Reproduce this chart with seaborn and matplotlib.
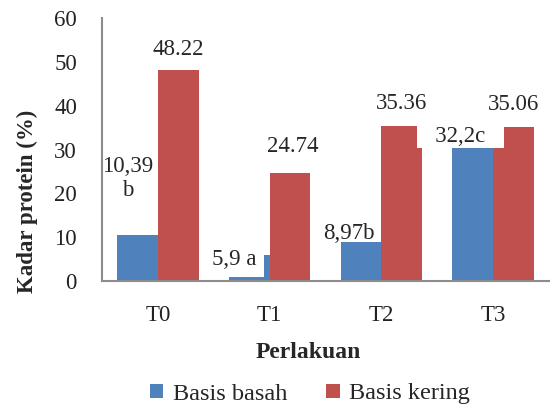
import matplotlib
matplotlib.use("Agg")
import matplotlib.pyplot as plt
import seaborn as sns
import pandas as pd

categories = ["T0", "T1", "T2", "T3"]
series_names = ["Basis basah", "Basis kering"]
basah = [10.39, 5.9, 8.97, 32.2]
kering = [48.22, 24.74, 35.36, 35.06]
basah_labels = ["10,39\nb", "5,9 a", "8,97b", "32,2c"]
kering_labels = ["48.22", "24.74", "35.36", "35.06"]
colors = ["#4F81BD", "#C0504D"]

df = pd.DataFrame({
    "Perlakuan": categories * 2,
    "value": basah + kering,
    "series": [series_names[0]] * 4 + [series_names[1]] * 4,
})

sns.set_style("white")
plt.rcParams["font.family"] = ["Liberation Serif", "DejaVu Serif"]

fig = plt.figure(figsize=(5.51, 4.05), dpi=100)
ax = fig.add_axes([102 / 551, 1 - 281 / 405, (549 - 102) / 551, (281 - 18) / 405])

sns.barplot(data=df, x="Perlakuan", y="value", hue="series", palette=colors,
            width=0.73, saturation=1, ax=ax, edgecolor="none", linewidth=0)

ax.set_ylim(0, 60)
ax.set_xlim(-0.5, 3.5)
ax.set_yticks(range(0, 61, 10))
fs = 16.5
ax.tick_params(axis="both", length=0, labelsize=fs, colors="#222222")
ax.tick_params(axis="x", pad=17)
ax.tick_params(axis="y", pad=18)
for s in ["top", "right"]:
    ax.spines[s].set_visible(False)
for s in ["left", "bottom"]:
    ax.spines[s].set_color("#8c8c8c")
    ax.spines[s].set_linewidth(1.5)

ax.set_xlabel("Perlakuan", fontsize=17, fontweight="bold")
ax.set_ylabel("Kadar protein (%)", fontsize=16.5, fontweight="bold")
ax.xaxis.set_label_coords(308 / 551, 1 - 353 / 405, transform=fig.transFigure)
ax.yaxis.set_label_coords(27 / 551, 1 - 201 / 405, transform=fig.transFigure)
ax.xaxis.label.set_va("center")
ax.yaxis.label.set_va("center")

# data labels
bw = 0.73 / 2
ax.text(0 + bw / 2, 48.22 + 2.2, kering_labels[0], ha="center", va="bottom", fontsize=fs)
ax.text(1 + bw / 2 + 0.02, 24.74 + 3.5, kering_labels[1], ha="center", va="bottom", fontsize=fs)
ax.text(2 + bw / 2, 35.36 + 2.8, kering_labels[2], ha="center", va="bottom", fontsize=fs)
ax.text(3 + bw / 2, 35.06 + 2.8, kering_labels[3], ha="center", va="bottom", fontsize=fs)

ax.text(-0.27, 23.4, basah_labels[0], ha="center", va="center", fontsize=fs,
        linespacing=1.2)
ax.text(0.685, 0.9 + 1.5, basah_labels[1], ha="center", va="bottom", fontsize=fs,
        bbox=dict(boxstyle="square,pad=0.3", facecolor="white", edgecolor="none"))
ax.text(1.71, 8.97 - 0.5, basah_labels[2], ha="center", va="bottom", fontsize=fs)
ax.text(2.71, 31.75, "   " + basah_labels[3] + "   ", ha="center", va="baseline", fontsize=fs,
        bbox=dict(boxstyle="square,pad=0.05", facecolor="white", edgecolor="none"))

leg = ax.legend(loc="center", ncol=2, frameon=False, fontsize=17.5,
                handlelength=0.55, handleheight=0.55,
                handletextpad=0.4, columnspacing=1.6)
leg.set_bbox_to_anchor((310 / 551, 1 - 394 / 405), transform=fig.transFigure)

fig.savefig("out.png", dpi=100)
